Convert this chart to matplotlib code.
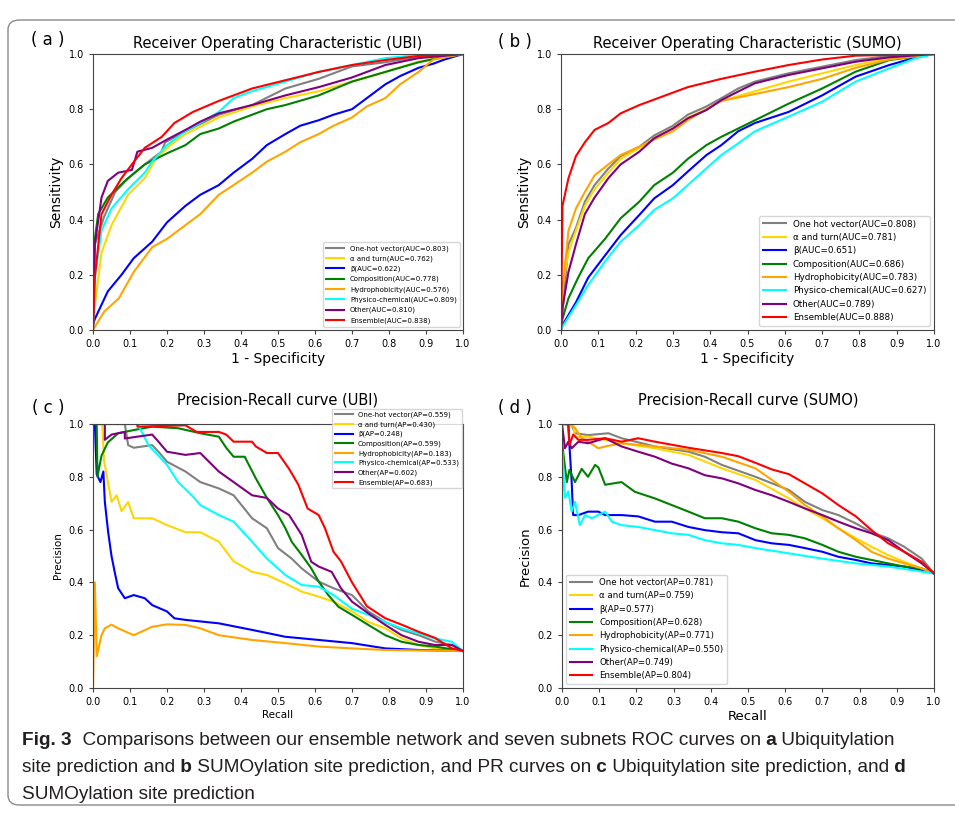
import matplotlib
matplotlib.use('Agg')
import matplotlib.pyplot as plt
from matplotlib.patches import FancyBboxPatch
import numpy as np

# ---------------- data ----------------
names_ubi = ['One-hot vector', 'α and turn', 'β', 'Composition', 'Hydrophobicity',
             'Physico-chemical', 'Other', 'Ensemble']
names_sumo = ['One hot vector', 'α and turn', 'β', 'Composition', 'Hydrophobicity',
              'Physico-chemical', 'Other', 'Ensemble']
colors = ['gray', 'gold', 'blue', 'green', 'orange', 'cyan', 'purple', 'red']

ubi_auc = [0.803, 0.762, 0.622, 0.778, 0.576, 0.809, 0.810, 0.838]
sumo_auc = [0.808, 0.781, 0.651, 0.686, 0.783, 0.627, 0.789, 0.888]
ubi_ap = [0.559, 0.430, 0.248, 0.599, 0.183, 0.533, 0.602, 0.683]
sumo_ap = [0.781, 0.759, 0.577, 0.628, 0.771, 0.550, 0.749, 0.804]

# (a) ROC UBI : (fpr, tpr)
roc_ubi_onehot = [(0, 0), (0.005, 0.31), (0.03, 0.41), (0.06, 0.50), (0.095, 0.55), (0.14, 0.60),
                  (0.185, 0.646), (0.195, 0.68), (0.25, 0.72), (0.34, 0.78), (0.43, 0.815),
                  (0.52, 0.875), (0.61, 0.91), (0.70, 0.955), (0.79, 0.97), (0.88, 0.99), (1, 1)]
roc_ubi_alpha = [(0, 0), (0.005, 0.09), (0.023, 0.28), (0.05, 0.38), (0.095, 0.49), (0.14, 0.55),
                 (0.17, 0.62), (0.21, 0.67), (0.25, 0.71), (0.34, 0.77), (0.43, 0.81), (0.52, 0.84),
                 (0.61, 0.865), (0.70, 0.90), (0.79, 0.935), (0.88, 0.972), (0.95, 0.99), (1, 1)]
roc_ubi_beta = [(0, 0.02), (0.005, 0.04), (0.04, 0.14), (0.077, 0.20), (0.11, 0.26), (0.16, 0.32),
                (0.20, 0.39), (0.25, 0.45), (0.29, 0.49), (0.34, 0.525), (0.38, 0.57), (0.43, 0.62),
                (0.47, 0.67), (0.52, 0.71), (0.56, 0.74), (0.61, 0.76), (0.65, 0.78), (0.70, 0.80),
                (0.74, 0.84), (0.79, 0.89), (0.83, 0.92), (0.88, 0.95), (0.92, 0.965), (0.95, 0.98), (1, 1)]
roc_ubi_comp = [(0, 0.30), (0.005, 0.33), (0.014, 0.42), (0.04, 0.48), (0.086, 0.54), (0.14, 0.60),
                (0.20, 0.64), (0.25, 0.67), (0.29, 0.71), (0.34, 0.73), (0.38, 0.755), (0.43, 0.78),
                (0.47, 0.80), (0.52, 0.815), (0.61, 0.85), (0.70, 0.90), (0.79, 0.935), (0.88, 0.97),
                (0.95, 0.99), (1, 1)]
roc_ubi_hydro = [(0, 0), (0.03, 0.066), (0.07, 0.115), (0.11, 0.21), (0.16, 0.30), (0.20, 0.33),
                 (0.25, 0.38), (0.29, 0.42), (0.34, 0.49), (0.38, 0.525), (0.43, 0.57), (0.47, 0.61),
                 (0.52, 0.646), (0.56, 0.68), (0.61, 0.71), (0.65, 0.74), (0.70, 0.77), (0.74, 0.81),
                 (0.79, 0.84), (0.83, 0.89), (0.88, 0.935), (0.92, 0.98), (1, 1)]
roc_ubi_physico = [(0, 0), (0.005, 0.19), (0.023, 0.36), (0.05, 0.44), (0.095, 0.51), (0.14, 0.57),
                   (0.16, 0.61), (0.20, 0.67), (0.25, 0.72), (0.34, 0.79), (0.38, 0.84), (0.43, 0.865),
                   (0.52, 0.90), (0.61, 0.935), (0.70, 0.96), (0.79, 0.985), (0.88, 0.996), (1, 1)]
roc_ubi_other = [(0, 0), (0.005, 0.31), (0.023, 0.48), (0.04, 0.54), (0.068, 0.57), (0.105, 0.58),
                 (0.12, 0.646), (0.16, 0.66), (0.20, 0.69), (0.25, 0.725), (0.29, 0.755), (0.34, 0.785),
                 (0.43, 0.815), (0.52, 0.85), (0.61, 0.88), (0.70, 0.915), (0.79, 0.96), (0.88, 0.985), (1, 1)]
roc_ubi_ens = [(0, 0), (0.005, 0.19), (0.023, 0.42), (0.05, 0.49), (0.077, 0.55), (0.105, 0.60),
               (0.14, 0.66), (0.186, 0.70), (0.22, 0.75), (0.27, 0.79), (0.34, 0.83), (0.43, 0.875),
               (0.52, 0.905), (0.61, 0.935), (0.70, 0.96), (0.79, 0.978), (0.88, 0.993), (1, 1)]

# (b) ROC SUMO
roc_sumo_onehot = [(0, 0), (0.004, 0.066), (0.02, 0.31), (0.04, 0.37), (0.064, 0.465), (0.09, 0.525),
                   (0.127, 0.585), (0.16, 0.63), (0.21, 0.664), (0.25, 0.705), (0.30, 0.74), (0.34, 0.78),
                   (0.39, 0.81), (0.43, 0.84), (0.475, 0.875), (0.52, 0.90), (0.61, 0.93), (0.70, 0.954),
                   (0.79, 0.978), (0.88, 0.993), (1, 1)]
roc_sumo_alpha = [(0, 0), (0.004, 0.16), (0.02, 0.28), (0.04, 0.36), (0.064, 0.45), (0.09, 0.51),
                  (0.127, 0.57), (0.16, 0.62), (0.21, 0.66), (0.25, 0.695), (0.30, 0.73), (0.34, 0.77),
                  (0.39, 0.80), (0.43, 0.83), (0.52, 0.865), (0.61, 0.90), (0.70, 0.93), (0.79, 0.96),
                  (0.88, 0.985), (1, 1)]
roc_sumo_beta = [(0, 0), (0.004, 0.018), (0.04, 0.10), (0.073, 0.19), (0.118, 0.27), (0.16, 0.344),
                 (0.21, 0.417), (0.25, 0.477), (0.30, 0.525), (0.34, 0.574), (0.39, 0.634), (0.43, 0.67),
                 (0.475, 0.72), (0.52, 0.75), (0.61, 0.79), (0.70, 0.85), (0.79, 0.918), (0.88, 0.96),
                 (0.95, 0.987), (1, 1)]
roc_sumo_comp = [(0, 0), (0.004, 0.04), (0.02, 0.115), (0.046, 0.19), (0.073, 0.26), (0.118, 0.33),
                 (0.16, 0.405), (0.21, 0.465), (0.25, 0.525), (0.30, 0.57), (0.34, 0.62), (0.39, 0.67),
                 (0.43, 0.70), (0.475, 0.73), (0.52, 0.76), (0.61, 0.82), (0.70, 0.875), (0.79, 0.936),
                 (0.88, 0.978), (1, 1)]
roc_sumo_hydro = [(0, 0), (0.004, 0.14), (0.02, 0.36), (0.04, 0.44), (0.064, 0.50), (0.09, 0.56),
                  (0.127, 0.60), (0.16, 0.634), (0.21, 0.664), (0.25, 0.69), (0.30, 0.72), (0.34, 0.76),
                  (0.39, 0.80), (0.43, 0.83), (0.52, 0.855), (0.61, 0.88), (0.70, 0.91), (0.79, 0.95),
                  (0.88, 0.98), (1, 1)]
roc_sumo_physico = [(0, 0), (0.004, 0.012), (0.04, 0.09), (0.073, 0.163), (0.118, 0.248), (0.16, 0.32),
                    (0.21, 0.38), (0.25, 0.435), (0.30, 0.477), (0.34, 0.525), (0.39, 0.586), (0.43, 0.634),
                    (0.475, 0.676), (0.52, 0.72), (0.61, 0.773), (0.70, 0.827), (0.79, 0.90), (0.88, 0.948),
                    (0.95, 0.984), (1, 1)]
roc_sumo_other = [(0, 0), (0.004, 0.08), (0.02, 0.21), (0.04, 0.31), (0.064, 0.42), (0.09, 0.48),
                  (0.127, 0.55), (0.16, 0.60), (0.21, 0.646), (0.25, 0.695), (0.30, 0.73), (0.34, 0.767),
                  (0.39, 0.797), (0.43, 0.833), (0.475, 0.864), (0.52, 0.894), (0.61, 0.924), (0.70, 0.948),
                  (0.79, 0.972), (0.88, 0.988), (1, 1)]
roc_sumo_ens = [(0, 0), (0.004, 0.45), (0.02, 0.55), (0.04, 0.63), (0.064, 0.68), (0.09, 0.725),
                (0.127, 0.75), (0.16, 0.785), (0.21, 0.815), (0.28, 0.85), (0.34, 0.88), (0.43, 0.91),
                (0.52, 0.936), (0.61, 0.96), (0.70, 0.98), (0.79, 0.994), (1, 1)]

# (c) PR UBI : (recall, precision)
pr_ubi_onehot = [(0, 1.0), (0.086, 1.0), (0.095, 0.92), (0.11, 0.91), (0.16, 0.92), (0.18, 0.89),
                 (0.20, 0.857), (0.25, 0.82), (0.29, 0.78), (0.34, 0.756), (0.38, 0.73), (0.43, 0.643),
                 (0.47, 0.605), (0.50, 0.53), (0.537, 0.49), (0.564, 0.453), (0.61, 0.403), (0.65, 0.378),
                 (0.70, 0.352), (0.744, 0.29), (0.79, 0.25), (0.834, 0.22), (0.88, 0.20), (0.924, 0.176),
                 (0.97, 0.163), (1, 0.14)]
pr_ubi_alpha = [(0, 1.0), (0.025, 1.0), (0.03, 0.86), (0.05, 0.705), (0.064, 0.73), (0.077, 0.67),
                (0.095, 0.705), (0.11, 0.643), (0.16, 0.643), (0.20, 0.617), (0.25, 0.59), (0.29, 0.59),
                (0.34, 0.554), (0.38, 0.48), (0.43, 0.44), (0.47, 0.428), (0.52, 0.396), (0.564, 0.365),
                (0.61, 0.346), (0.65, 0.327), (0.70, 0.29), (0.744, 0.25), (0.79, 0.226), (0.834, 0.188),
                (0.88, 0.163), (0.924, 0.15), (1, 0.14)]
pr_ubi_beta = [(0, 1.0), (0.005, 1.0), (0.01, 0.81), (0.02, 0.78), (0.028, 0.82), (0.032, 0.705),
               (0.041, 0.59), (0.05, 0.50), (0.06, 0.43), (0.068, 0.378), (0.086, 0.34), (0.11, 0.352),
               (0.14, 0.34), (0.16, 0.314), (0.20, 0.29), (0.22, 0.264), (0.25, 0.258), (0.34, 0.245),
               (0.43, 0.22), (0.52, 0.194), (0.61, 0.182), (0.70, 0.17), (0.79, 0.15), (0.88, 0.144), (1, 0.14)]
pr_ubi_comp = [(0, 1.0), (0.01, 1.0), (0.012, 0.80), (0.023, 0.88), (0.04, 0.93), (0.068, 0.965),
               (0.11, 0.977), (0.16, 0.99), (0.23, 0.984), (0.29, 0.965), (0.34, 0.952), (0.36, 0.91),
               (0.38, 0.876), (0.41, 0.876), (0.44, 0.794), (0.47, 0.72), (0.50, 0.655), (0.52, 0.605),
               (0.537, 0.554), (0.564, 0.504), (0.59, 0.453), (0.61, 0.403), (0.636, 0.352), (0.663, 0.308),
               (0.70, 0.277), (0.744, 0.239), (0.79, 0.20), (0.834, 0.175), (0.88, 0.163), (0.924, 0.157),
               (1, 0.14)]
pr_ubi_hydro = [(0, 0.0), (0.005, 0.40), (0.01, 0.12), (0.023, 0.20), (0.032, 0.226), (0.05, 0.24),
                (0.068, 0.226), (0.11, 0.20), (0.16, 0.232), (0.20, 0.241), (0.25, 0.239), (0.29, 0.226),
                (0.34, 0.20), (0.43, 0.182), (0.52, 0.17), (0.61, 0.157), (0.70, 0.15), (0.79, 0.144), (1, 0.14)]
pr_ubi_physico = [(0, 1.0), (0.12, 1.0), (0.13, 0.975), (0.15, 0.92), (0.177, 0.88), (0.20, 0.845),
                  (0.23, 0.78), (0.267, 0.73), (0.29, 0.693), (0.34, 0.655), (0.38, 0.63), (0.43, 0.554),
                  (0.47, 0.49), (0.52, 0.428), (0.564, 0.39), (0.61, 0.384), (0.65, 0.352), (0.70, 0.30),
                  (0.744, 0.277), (0.79, 0.25), (0.834, 0.226), (0.88, 0.207), (0.924, 0.188), (0.97, 0.175),
                  (1, 0.14)]
pr_ubi_other = [(0, 1.0), (0.032, 1.0), (0.032, 0.94), (0.05, 0.96), (0.086, 0.97), (0.086, 0.945),
                (0.11, 0.95), (0.16, 0.96), (0.177, 0.933), (0.20, 0.895), (0.25, 0.883), (0.29, 0.89),
                (0.34, 0.82), (0.38, 0.78), (0.43, 0.73), (0.47, 0.72), (0.50, 0.68), (0.53, 0.655),
                (0.564, 0.58), (0.59, 0.478), (0.61, 0.46), (0.645, 0.44), (0.67, 0.378), (0.70, 0.327),
                (0.744, 0.283), (0.79, 0.239), (0.834, 0.20), (0.88, 0.175), (0.924, 0.163), (0.97, 0.163),
                (1, 0.14)]
pr_ubi_ens = [(0, 1.0), (0.12, 1.0), (0.12, 0.99), (0.25, 0.995), (0.28, 0.97), (0.34, 0.97),
              (0.36, 0.96), (0.38, 0.933), (0.43, 0.933), (0.44, 0.915), (0.47, 0.89), (0.50, 0.89),
              (0.53, 0.83), (0.555, 0.77), (0.58, 0.68), (0.61, 0.655), (0.627, 0.605), (0.65, 0.516),
              (0.67, 0.48), (0.70, 0.40), (0.74, 0.31), (0.79, 0.264), (0.834, 0.24), (0.88, 0.213),
              (0.924, 0.19), (0.97, 0.15), (1, 0.14)]

# (d) PR SUMO
pr_sumo_onehot = [(0, 1.0), (0.026, 0.996), (0.035, 0.965), (0.07, 0.958), (0.125, 0.965), (0.16, 0.946),
                  (0.25, 0.915), (0.34, 0.895), (0.384, 0.876), (0.43, 0.845), (0.52, 0.80), (0.61, 0.75),
                  (0.653, 0.705), (0.70, 0.674), (0.743, 0.655), (0.79, 0.623), (0.832, 0.59), (0.877, 0.567),
                  (0.92, 0.535), (0.967, 0.49), (1, 0.434)]
pr_sumo_alpha = [(0, 1.0), (0.03, 1.0), (0.035, 0.95), (0.07, 0.952), (0.116, 0.94), (0.16, 0.927),
                 (0.25, 0.908), (0.34, 0.883), (0.43, 0.832), (0.52, 0.788), (0.61, 0.718), (0.653, 0.68),
                 (0.70, 0.643), (0.743, 0.605), (0.79, 0.567), (0.832, 0.535), (0.877, 0.503), (0.92, 0.478),
                 (0.967, 0.453), (1, 0.434)]
pr_sumo_beta = [(0, 1.0), (0.017, 1.0), (0.02, 0.92), (0.026, 0.78), (0.03, 0.655), (0.044, 0.655),
                (0.07, 0.668), (0.098, 0.668), (0.116, 0.655), (0.16, 0.655), (0.205, 0.65), (0.25, 0.63),
                (0.295, 0.63), (0.34, 0.61), (0.384, 0.598), (0.43, 0.59), (0.474, 0.586), (0.52, 0.56),
                (0.564, 0.548), (0.61, 0.542), (0.653, 0.53), (0.70, 0.516), (0.743, 0.497), (0.79, 0.485),
                (0.832, 0.472), (0.877, 0.466), (0.92, 0.46), (1, 0.434)]
pr_sumo_comp = [(0, 0.93), (0.013, 0.78), (0.02, 0.826), (0.035, 0.78), (0.053, 0.83), (0.07, 0.80),
                (0.089, 0.845), (0.098, 0.835), (0.116, 0.77), (0.16, 0.78), (0.196, 0.743), (0.25, 0.718),
                (0.295, 0.693), (0.34, 0.668), (0.384, 0.643), (0.43, 0.643), (0.474, 0.63), (0.52, 0.605),
                (0.564, 0.586), (0.61, 0.58), (0.653, 0.567), (0.70, 0.542), (0.743, 0.516), (0.79, 0.497),
                (0.832, 0.485), (0.877, 0.472), (0.92, 0.46), (0.967, 0.453), (1, 0.434)]
pr_sumo_hydro = [(0, 1.0), (0.017, 1.0), (0.035, 0.985), (0.053, 0.946), (0.07, 0.933), (0.098, 0.908),
                 (0.116, 0.915), (0.16, 0.927), (0.25, 0.915), (0.34, 0.902), (0.43, 0.876), (0.52, 0.832),
                 (0.61, 0.743), (0.653, 0.693), (0.70, 0.65), (0.743, 0.605), (0.79, 0.56), (0.832, 0.516),
                 (0.877, 0.49), (0.92, 0.472), (0.967, 0.453), (1, 0.434)]
pr_sumo_physico = [(0, 0.496), (0.001, 0.896), (0.008, 0.72), (0.017, 0.745), (0.026, 0.668), (0.035, 0.705),
                   (0.048, 0.617), (0.062, 0.655), (0.08, 0.643), (0.116, 0.668), (0.134, 0.63), (0.16, 0.617),
                   (0.205, 0.61), (0.25, 0.598), (0.295, 0.586), (0.34, 0.58), (0.384, 0.56), (0.43, 0.548),
                   (0.474, 0.542), (0.52, 0.53), (0.61, 0.51), (0.70, 0.49), (0.79, 0.472), (0.877, 0.46),
                   (1, 0.434)]
pr_sumo_other = [(0, 1.0), (0.008, 0.908), (0.017, 0.933), (0.026, 0.908), (0.044, 0.933), (0.07, 0.927),
                 (0.116, 0.946), (0.16, 0.915), (0.205, 0.895), (0.25, 0.876), (0.295, 0.85), (0.34, 0.832),
                 (0.384, 0.806), (0.43, 0.794), (0.474, 0.775), (0.52, 0.75), (0.564, 0.73), (0.61, 0.705),
                 (0.653, 0.68), (0.70, 0.655), (0.743, 0.63), (0.79, 0.605), (0.832, 0.586), (0.877, 0.56),
                 (0.92, 0.516), (0.967, 0.472), (1, 0.434)]
pr_sumo_ens = [(0, 1.0), (0.017, 1.0), (0.02, 0.92), (0.03, 0.96), (0.044, 0.94), (0.07, 0.94),
               (0.116, 0.946), (0.16, 0.933), (0.205, 0.946), (0.25, 0.933), (0.34, 0.91), (0.43, 0.89),
               (0.474, 0.878), (0.52, 0.853), (0.564, 0.828), (0.61, 0.81), (0.653, 0.775), (0.70, 0.737),
               (0.743, 0.693), (0.79, 0.65), (0.832, 0.598), (0.877, 0.548), (0.92, 0.516), (0.967, 0.478),
               (1, 0.434)]

roc_ubi = [roc_ubi_onehot, roc_ubi_alpha, roc_ubi_beta, roc_ubi_comp,
           roc_ubi_hydro, roc_ubi_physico, roc_ubi_other, roc_ubi_ens]
roc_sumo = [roc_sumo_onehot, roc_sumo_alpha, roc_sumo_beta, roc_sumo_comp,
            roc_sumo_hydro, roc_sumo_physico, roc_sumo_other, roc_sumo_ens]
pr_ubi = [pr_ubi_onehot, pr_ubi_alpha, pr_ubi_beta, pr_ubi_comp,
          pr_ubi_hydro, pr_ubi_physico, pr_ubi_other, pr_ubi_ens]
pr_sumo = [pr_sumo_onehot, pr_sumo_alpha, pr_sumo_beta, pr_sumo_comp,
           pr_sumo_hydro, pr_sumo_physico, pr_sumo_other, pr_sumo_ens]

# ---------------- figure ----------------
W, H = 955, 814
fig = plt.figure(figsize=(W / 100, H / 100), dpi=100)
fig.patch.set_facecolor('white')

def rect(l, t, r, b):
    return [l / W, 1 - b / H, (r - l) / W, (b - t) / H]

def panel(ax, curves, names, scores, tag, title, xlab, ylab, lab_size, title_pad):
    for pts, nm, sc, col in zip(curves, names, scores, colors):
        arr = np.array(pts)
        ax.plot(arr[:, 0], arr[:, 1], color=col, lw=1.5, label='%s(%s=%.3f)' % (nm, tag, sc))
    ax.set_xlim(0, 1)
    ax.set_ylim(0, 1)
    ax.set_xticks(np.arange(0, 1.01, 0.1))
    ax.set_yticks(np.arange(0, 1.01, 0.2))
    ax.tick_params(labelsize=7, color='#444444', length=3)
    for s in ax.spines.values():
        s.set_color('#444444')
    ax.set_title(title, fontsize=10.5, pad=title_pad)
    ax.set_xlabel(xlab, fontsize=lab_size, labelpad=2)
    ax.set_ylabel(ylab, fontsize=lab_size, labelpad=4)

ax_a = fig.add_axes(rect(93, 54, 463, 330))
panel(ax_a, roc_ubi, names_ubi, ubi_auc, 'AUC', 'Receiver Operating Characteristic (UBI)',
      '1 - Specificity', 'Sensitivity', 10, 4)
ax_a.legend(loc='lower right', fontsize=5, handlelength=2.6, labelspacing=0.55)

ax_b = fig.add_axes(rect(561, 54, 934, 330))
panel(ax_b, roc_sumo, names_sumo, sumo_auc, 'AUC', 'Receiver Operating Characteristic (SUMO)',
      '1 - Specificity', 'Sensitivity', 10, 4)
ax_b.legend(loc='lower right', fontsize=6.3, handlelength=2.6, labelspacing=0.5)

ax_c = fig.add_axes(rect(93, 424, 463, 688))
panel(ax_c, pr_ubi, names_ubi, ubi_ap, 'AP', 'Precision-Recall curve (UBI)',
      'Recall', 'Precision', 7.5, 14)
ax_c.legend(loc='upper right', bbox_to_anchor=(0.997, 1.057), borderaxespad=0,
            fontsize=5, handlelength=2.6, labelspacing=0.45)

ax_d = fig.add_axes(rect(562, 424, 934, 688))
panel(ax_d, pr_sumo, names_sumo, sumo_ap, 'AP', 'Precision-Recall curve (SUMO)',
      'Recall', 'Precision', 9.5, 14)
ax_d.legend(loc='lower left', fontsize=6.2, handlelength=2.6, labelspacing=0.5)

# panel tags
for txt, x, y in [('( a )', 48, 40), ('( b )', 515, 42), ('( c )', 48, 408), ('( d )', 515, 408)]:
    fig.text(x / W, 1 - y / H, txt, fontsize=12, ha='center', va='center')

# rounded frame around the figure
frame = FancyBboxPatch((8 / W, 1 - 805 / H), (W + 20) / W, (805 - 20) / H,
                       boxstyle='round,pad=0,rounding_size=0.012', transform=fig.transFigure,
                       fill=False, edgecolor='#8a8a8a', lw=1.0, clip_on=False)
fig.patches.append(frame)

# caption, pieces chained one after another
cap_font = ['Liberation Sans', 'DejaVu Sans']
cap_size = 13.7
cap_lines = [
    [('Fig. 3', 'bold'), ('  Comparisons between our ensemble network and seven subnets ROC curves on', 'normal'),
     (' a', 'bold'), (' Ubiquitylation', 'normal')],
    [('site prediction and', 'normal'), (' b', 'bold'),
     (' SUMOylation site prediction, and PR curves on', 'normal'), (' c', 'bold'),
     (' Ubiquitylation site prediction, and', 'normal'), (' d', 'bold')],
    [('SUMOylation site prediction', 'normal')],
]
cap_y = [749, 776, 803]
for line, y in zip(cap_lines, cap_y):
    prev = None
    for txt, wt in line:
        if prev is None:
            prev = fig.text(22 / W, 1 - y / H, txt, fontsize=cap_size, fontweight=wt,
                            family=cap_font, color='#231f20', ha='left', va='bottom')
        else:
            prev = ax_d.annotate(txt, xy=(1, 0), xycoords=prev, xytext=(0, 0),
                                 textcoords='offset points', fontsize=cap_size, fontweight=wt,
                                 family=cap_font, color='#231f20', ha='left', va='bottom',
                                 annotation_clip=False)

fig.savefig('out.png', dpi=100)
